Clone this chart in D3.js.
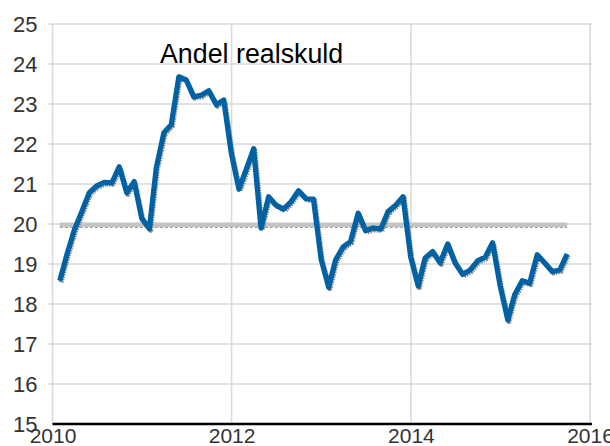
<!DOCTYPE html>
<html>
<head>
<meta charset="utf-8">
<script src="https://cdn.jsdelivr.net/npm/d3@7"></script>
<style>
  body { margin: 0; background: #fff; }
  svg text { font-family: "Liberation Sans", Arial, sans-serif; }
</style>
</head>
<body>
<div id="chart"></div>
<script>
// months, end of month, Jan 2010 - Sep 2015
var startMonth = "2010-01";
var endMonth = "2015-09";

// andel realskuld, pct.
var realskuld = [
    18.58, 19.22, 19.85, 20.30, 20.78, 20.95, 21.04, 21.03, 21.43, 20.78, 21.06, 20.14,
    19.88, 21.40, 22.28, 22.48, 23.68, 23.60, 23.18, 23.22, 23.33, 22.98, 23.10, 21.77,
    20.87, 21.35, 21.88, 19.90, 20.68, 20.47, 20.37, 20.56, 20.83, 20.63, 20.62, 19.12,
    18.42, 19.10, 19.43, 19.56, 20.27, 19.83, 19.90, 19.87, 20.31, 20.47, 20.68, 19.18,
    18.45, 19.15, 19.31, 19.03, 19.50, 19.03, 18.74, 18.85, 19.08, 19.17, 19.53, 18.45,
    17.60, 18.23, 18.58, 18.52, 19.23, 19.03, 18.81, 18.85, 19.25
];

// gennemsnit
var avgLevel = [19.98, 19.98];

var yTicks = [15, 16, 17, 18, 19, 20, 21, 22, 23, 24, 25];
var xTickYears = [2010, 2012, 2014, 2016];
var annotation = "Andel realskuld";

var width = 610, height = 446;
var margin = {top: 24, right: 20, bottom: 22, left: 52.5};

var parseMonth = d3.timeParse("%Y-%m");
var months = d3.timeMonth.range(parseMonth(startMonth), d3.timeMonth.offset(parseMonth(endMonth), 1));
// month-end dates
var dates = months.map(function(m) { return d3.timeDay.offset(d3.timeMonth.offset(m, 1), -1); });

var data = realskuld.map(function(v, i) { return {date: dates[i], value: v}; });
var avgData = [
    {date: dates[0], value: avgLevel[0]},
    {date: dates[dates.length - 1], value: avgLevel[1]}
];

var svg = d3.select("#chart").append("svg")
    .attr("width", width)
    .attr("height", height);

var x = d3.scaleTime()
    .domain([new Date(2010, 0, 1), new Date(2016, 0, 1)])
    .range([margin.left, 590]);

var y = d3.scaleLinear()
    .domain([15, 25])
    .range([424, margin.top]);

//horizontal grid
svg.append("g")
    .selectAll("line")
    .data(yTicks.slice(1))
    .enter().append("line")
    .attr("x1", margin.left - 4)
    .attr("x2", 592)
    .attr("y1", function(d) { return y(d); })
    .attr("y2", function(d) { return y(d); })
    .style("stroke", "#d9d9d9")
    .style("stroke-width", 1.5);

//vertical grid
svg.append("g")
    .selectAll("line")
    .data(xTickYears)
    .enter().append("line")
    .attr("x1", function(d) { return x(new Date(d, 0, 1)); })
    .attr("x2", function(d) { return x(new Date(d, 0, 1)); })
    .attr("y1", y(25))
    .attr("y2", y(15))
    .style("stroke", "#d9d9d9")
    .style("stroke-width", 1.5);

// y axis labels
var yAxis = d3.axisLeft(y).tickValues(yTicks).tickSize(0).tickPadding(15);
svg.append("g")
    .attr("transform", "translate(" + margin.left + ",0)")
    .call(yAxis)
    .call(function(g) { g.select(".domain").remove(); })
    .selectAll("text")
    .style("font-size", "22px")
    .style("fill", "#333");

// x axis
var xAxis = d3.axisBottom(x)
    .tickValues(xTickYears.map(function(d) { return new Date(d, 0, 1); }))
    .tickFormat(d3.timeFormat("%Y"))
    .tickSize(0)
    .tickPadding(4);
var gx = svg.append("g")
    .attr("transform", "translate(0," + y(15) + ")")
    .call(xAxis);
gx.select(".domain")
    .attr("d", "M" + margin.left + ",0H" + 592)
    .style("stroke", "#000")
    .style("stroke-width", 2.5);
gx.selectAll("text")
    .style("font-size", "21px")
    .style("fill", "#333");

var line = d3.line()
    .x(function(d) { return x(d.date); })
    .y(function(d) { return y(d.value); });

// average line with shadow
svg.append("path")
    .datum(avgData)
    .attr("d", line)
    .attr("transform", "translate(0,2.5)")
    .style("fill", "none")
    .style("stroke", "#8a8a8a")
    .style("stroke-width", 1)
    .style("stroke-dasharray", "3,2");
svg.append("path")
    .datum(avgData)
    .attr("d", line)
    .style("fill", "none")
    .style("stroke", "#c4c4c4")
    .style("stroke-width", 4.5);

// realskuld with shadow
svg.append("path")
    .datum(data)
    .attr("d", line)
    .attr("transform", "translate(1.2,1.5)")
    .style("fill", "none")
    .style("stroke", "#8c8c8c")
    .style("stroke-width", 5)
    .style("stroke-dasharray", "1.5,1")
    .style("stroke-linejoin", "round");
svg.append("path")
    .datum(data)
    .attr("d", line)
    .style("fill", "none")
    .style("stroke", "#0062a3")
    .style("stroke-width", 5.3)
    .style("stroke-linejoin", "round");

svg.append("text")
    .attr("x", 160)
    .attr("y", 62.5)
    .style("font-size", "26.8px")
    .style("fill", "#000")
    .text(annotation);
</script>
</body>
</html>
